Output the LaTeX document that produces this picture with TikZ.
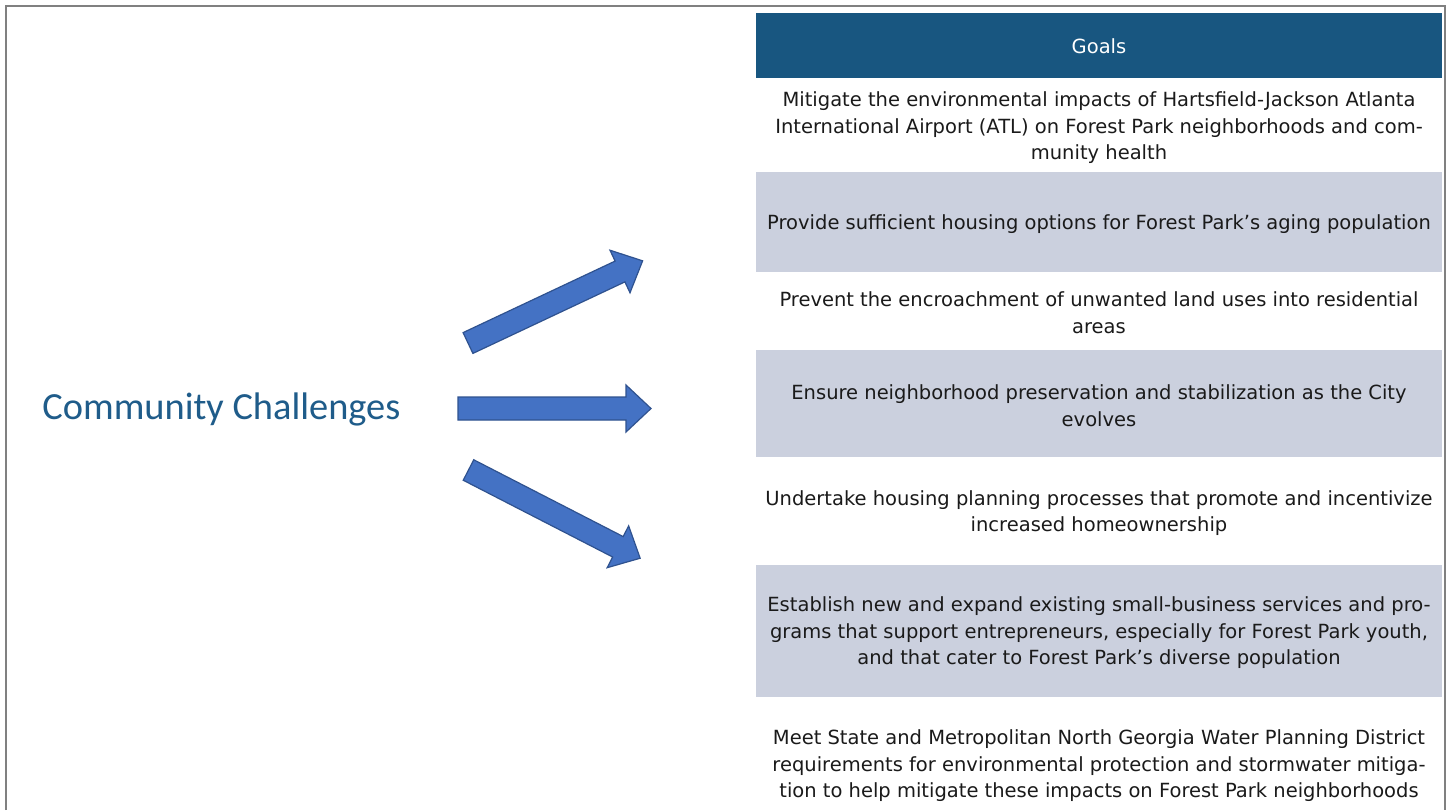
\documentclass[tikz,border=0pt]{standalone}
\usepackage{fontspec}
\setmainfont{DejaVu Sans}
\newfontfamily\calib{Carlito}
\definecolor{hdr}{RGB}{24,86,128}
\definecolor{rowgray}{RGB}{203,208,222}
\definecolor{arrfill}{RGB}{68,114,196}
\definecolor{arredge}{RGB}{47,82,143}
\definecolor{cctext}{RGB}{31,92,138}
\definecolor{framegray}{RGB}{128,128,128}
\definecolor{bodytext}{RGB}{26,26,26}
\begin{document}
\begin{tikzpicture}[x=0.5pt,y=-0.5pt,
  goaltext/.style={align=center,text=bodytext,font=\fontsize{9.75}{13.25}\selectfont,inner sep=0pt},
  bluearrow/.style={fill=arrfill,draw=arredge,line width=0.6pt,line join=miter}]
\useasboundingbox (0,0) rectangle (1451,810);
\fill[white] (0,0) rectangle (1451,810);
% frame
\draw[framegray,line width=1pt] (6,810) -- (6,6) -- (1445,6) -- (1445,810);
% table backgrounds
\fill[hdr] (756,13) rectangle (1442,78);
\fill[rowgray] (756,172) rectangle (1442,272);
\fill[rowgray] (756,350) rectangle (1442,457);
\fill[rowgray] (756,565) rectangle (1442,697);
% header
\node[text=white,font=\fontsize{9.75}{12}\selectfont,inner sep=0pt] (goals) at (1099,46.5) {Goals};
% rows
\node[goaltext] (g1) at (1099,128) {Mitigate the environmental impacts of Hartsfield-Jackson Atlanta\\International Airport (ATL) on Forest Park neighborhoods and com-\\munity health};
\node[goaltext] (g2) at (1099,224) {Provide sufficient housing options for Forest Park’s aging population};
\node[goaltext] (g3) at (1099,312.5) {Prevent the encroachment of unwanted land uses into residential\\areas};
\node[goaltext] (g4) at (1099,405.5) {Ensure neighborhood preservation and stabilization as the City\\evolves};
\node[goaltext] (g5) at (1099,513) {Undertake housing planning processes that promote and incentivize\\increased homeownership};
\node[goaltext] (g6) at (1099,633) {Establish new and expand existing small-business services and pro-\\grams that support entrepreneurs, especially for Forest Park youth,\\and that cater to Forest Park’s diverse population};
\node[goaltext] (g7) at (1099,766) {Meet State and Metropolitan North Georgia Water Planning District\\requirements for environmental protection and stormwater mitiga-\\tion to help mitigate these impacts on Forest Park neighborhoods};
% title
\node[text=cctext,font=\calib\fontsize{19.2}{23}\selectfont,inner sep=0pt,anchor=west] (cc) at (42,409) {Community Challenges};
% arrows
\def\arrowpath{(0,-11.5) -- (168,-11.5) -- (168,-23.5) -- (193,0) -- (168,23.5) -- (168,11.5) -- (0,11.5) -- cycle}
\draw[bluearrow,shift={(468,343)},rotate=25.2] \arrowpath;
\draw[bluearrow,shift={(458,408.5)}] \arrowpath;
\draw[bluearrow,shift={(468.5,470)},rotate=-27.2] \arrowpath;
\end{tikzpicture}
\end{document}
